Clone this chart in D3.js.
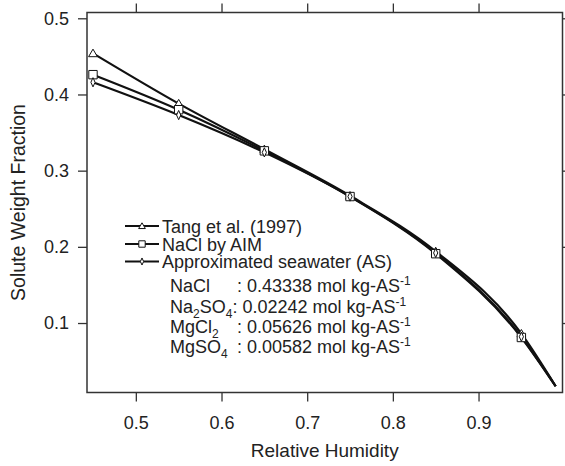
<!DOCTYPE html>
<html>
<head>
<meta charset="utf-8">
<script src="https://cdn.jsdelivr.net/npm/d3@7"></script>
<style>
  body { margin: 0; background: #fff; }
  text { font-family: "Liberation Sans", Arial, sans-serif; fill: #222; }
</style>
</head>
<body>
<svg></svg>
<script>
let width = 565;
let height = 466;

// data
let rh = [0.45, 0.55, 0.65, 0.75, 0.85, 0.95, 0.99];
let tang = [0.454, 0.388, 0.328, 0.267, 0.194, 0.086, 0.017];
let aim = [0.426, 0.380, 0.326, 0.266, 0.191, 0.081, 0.017];
let seawater = [0.416, 0.373, 0.324, 0.266, 0.192, 0.082, 0.017];
let markerCount = 6; // last point is curve end, no marker

let xTicks = [0.5, 0.6, 0.7, 0.8, 0.9];
let yTicks = [0.1, 0.2, 0.3, 0.4, 0.5];

let legendNames = ["Tang et al. (1997)", "NaCl by AIM", "Approximated seawater (AS)"];
let legendShapes = ["tri", "sq", "dia"];
let compNames = [["NaCl", ""], ["Na", "2", "SO", "4"], ["MgCl", "2"], ["MgSO", "4"]];
let compValues = ["0.43338", "0.02242", "0.05626", "0.00582"];

let margin = {left: 87, right: 2.5, top: 12.5, bottom: 73.5};

let svg = d3.select('svg')
            .attr('width', width)
            .attr('height', height);

let x = d3.scaleLinear()
          .domain([0.443, 0.998])
          .range([margin.left, width - margin.right]);

let y = d3.scaleLinear()
          .domain([0.0088, 0.5076])
          .range([height - margin.bottom, margin.top]);

let axisColor = "#333";
let tickFont = '18px';
let textFont = '18px';

function styleAxis(g) {
  g.select('.domain').remove();
  g.selectAll('line').attr('stroke', axisColor).attr('stroke-width', 1.3);
  g.selectAll('text')
   .style('font-size', tickFont)
   .attr('fill', '#222');
}

svg.append('g')
   .attr('transform', `translate(0,${y.range()[0]})`)
   .call(d3.axisBottom(x).tickValues(xTicks).tickSize(9).tickPadding(15).tickFormat(d3.format('.1f')))
   .call(styleAxis);

svg.append('g')
   .attr('transform', `translate(0,${y.range()[1]})`)
   .call(d3.axisTop(x).tickValues(xTicks).tickSize(9).tickFormat(''))
   .call(styleAxis);

svg.append('g')
   .attr('transform', `translate(${x.range()[0]},0)`)
   .call(d3.axisLeft(y).tickValues(yTicks).tickSize(9).tickPadding(9).tickFormat(d3.format('.1f')))
   .call(styleAxis);

svg.append('g')
   .attr('transform', `translate(${x.range()[1]},0)`)
   .call(d3.axisRight(y).tickValues(yTicks).tickSize(9).tickFormat(''))
   .call(styleAxis);

// frame
svg.append('rect')
   .attr('x', x.range()[0])
   .attr('y', y.range()[1])
   .attr('width', x.range()[1] - x.range()[0])
   .attr('height', y.range()[0] - y.range()[1])
   .attr('fill', 'none')
   .attr('stroke', axisColor)
   .attr('stroke-width', 1.5);

// axis titles
svg.append('text')
   .attr('x', (x.range()[0] + x.range()[1]) / 2)
   .attr('y', 457)
   .attr('text-anchor', 'middle')
   .style('font-size', '19px')
   .text('Relative Humidity');

svg.append('text')
   .attr('transform', `translate(25,${(y.range()[0] + y.range()[1]) / 2}) rotate(-90)`)
   .attr('text-anchor', 'middle')
   .style('font-size', '19.5px')
   .text('Solute Weight Fraction');

// marker shapes
function shapePath(kind, s) {
  if (kind == "tri") return `M0,${-s}L${s * 1.05},${s * 0.8}L${-s * 1.05},${s * 0.8}Z`;
  if (kind == "sq") return `M${-s},${-s}H${s}V${s}H${-s}Z`;
  return `M0,${-s * 1.1}L${s * 0.5},0L0,${s * 1.1}L${-s * 0.5},0Z`;
}

let series = [tang, aim, seawater];

let line = d3.line()
             .x(d => x(d[0]))
             .y(d => y(d[1]))
             .curve(d3.curveMonotoneX);

series.forEach((vals, i) => {
  let pts = rh.map((r, j) => [r, vals[j]]);
  svg.append('path')
     .datum(pts)
     .attr('d', line)
     .attr('fill', 'none')
     .attr('stroke', '#111')
     .attr('stroke-width', 2.2);
});

series.forEach((vals, i) => {
  let pts = rh.map((r, j) => [r, vals[j]]).slice(0, markerCount);
  svg.append('g')
     .selectAll('path')
     .data(pts)
     .enter()
     .append('path')
     .attr('transform', d => `translate(${x(d[0])},${y(d[1])})`)
     .attr('d', shapePath(legendShapes[i], 4.2))
     .attr('fill', '#fff')
     .attr('stroke', '#111')
     .attr('stroke-width', 1);
});

// legend
let legend = svg.append('g');
let legendY = [226, 244, 261.5];

legendNames.forEach((name, i) => {
  legend.append('line')
        .attr('x1', 125).attr('x2', 159)
        .attr('y1', legendY[i]).attr('y2', legendY[i])
        .attr('stroke', '#111')
        .attr('stroke-width', 1.8);
  legend.append('path')
        .attr('transform', `translate(142,${legendY[i]})`)
        .attr('d', shapePath(legendShapes[i], 3.2))
        .attr('fill', '#fff')
        .attr('stroke', '#111')
        .attr('stroke-width', 1);
  legend.append('text')
        .attr('x', 162)
        .attr('y', legendY[i] + 6.5)
        .style('font-size', textFont)
        .text(name);
});

let compY = [285, 306, 326, 346.5];

compNames.forEach((parts, i) => {
  let t = legend.append('text')
                .attr('x', 170)
                .attr('y', compY[i] + 6.5)
                .style('font-size', textFont);
  parts.forEach((p, k) => {
    if (p == "") return;
    if (k % 2 == 0) {
      t.append('tspan').attr('dy', k == 0 ? 0 : -5).text(p);
    } else {
      t.append('tspan').attr('dy', 5).style('font-size', '12px').text(p);
    }
  });
  let rest = t.append('tspan');
  let sub = parts.length % 2 == 0 && parts[parts.length - 1] != "";
  rest.attr('dy', sub ? -5 : 0);
  if (i != 1) rest.attr('x', 237);
  rest.text(': ' + compValues[i] + ' mol kg-AS');
  t.append('tspan').attr('dy', -7).style('font-size', '12px').text('-1');
});
</script>
</body>
</html>
